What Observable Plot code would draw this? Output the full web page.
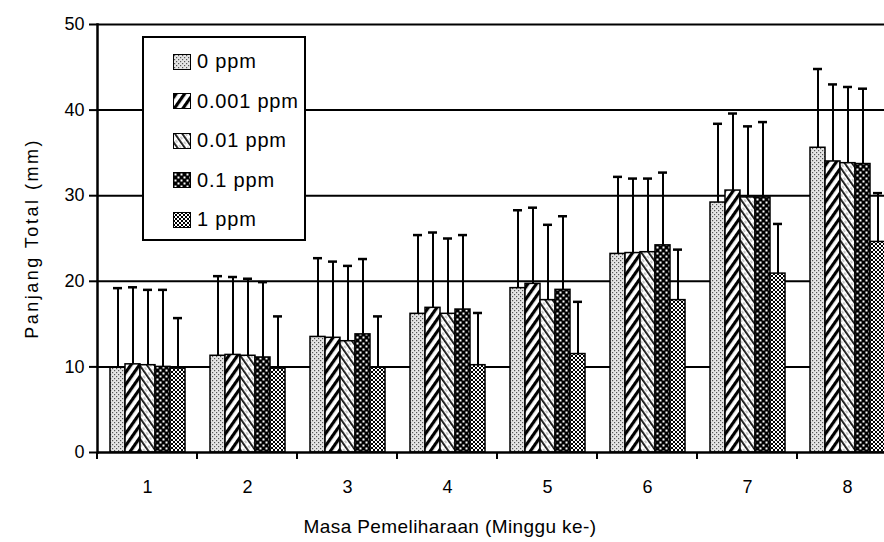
<!DOCTYPE html>
<html>
<head>
<meta charset="utf-8">
<script src="https://cdn.jsdelivr.net/npm/d3@7"></script>
<script src="https://cdn.jsdelivr.net/npm/@observablehq/plot@0.6"></script>
<style>
  html, body { margin: 0; padding: 0; background: #fff; overflow: hidden; }
  body { font-family: "Liberation Sans", Arial, sans-serif; color: #000; }
  #wrap { position: relative; width: 884px; height: 542px; overflow: hidden; }
  #chart svg { overflow: hidden; }
  #legend {
    position: absolute; left: 142px; top: 36px; width: 164px; height: 205px;
    box-sizing: border-box; border: 2px solid #000; background: #fff;
    padding: 4px 0 0 29px;
  }
  .row { display: flex; align-items: center; height: 39.5px; font-size: 20px; letter-spacing: 0.8px; }
  .sw { width: 16px; height: 14px; border: 1.5px solid #000; margin-right: 6px; flex: none; }
  #xlabel {
    position: absolute; left: 0; width: 900px; top: 516px; text-align: center;
    font-size: 19px; letter-spacing: 0.4px;
  }
  svg [aria-label="y-axis label"] text { letter-spacing: 2.5px; }
</style>
</head>
<body>
<svg width="0" height="0" style="position:absolute">
  <defs>
    <pattern id="pat0" width="4" height="4" patternUnits="userSpaceOnUse">
      <rect width="4" height="4" fill="#e4e4e4"/>
      <rect x="0" y="0" width="1.2" height="1.2" fill="#555"/>
      <rect x="2" y="2" width="1.2" height="1.2" fill="#555"/>
    </pattern>
    <pattern id="pat1" width="7" height="7" patternUnits="userSpaceOnUse" patternTransform="rotate(35)">
      <rect width="7" height="7" fill="#fff"/>
      <rect width="3.2" height="7" fill="#000"/>
    </pattern>
    <pattern id="pat2" width="6" height="6" patternUnits="userSpaceOnUse" patternTransform="rotate(-35)">
      <rect width="6" height="6" fill="#fff"/>
      <rect width="1.8" height="6" fill="#111"/>
      <rect x="3.5" y="0" width="0.8" height="3" fill="#888"/>
    </pattern>
    <pattern id="pat3" width="6" height="6" patternUnits="userSpaceOnUse">
      <rect width="6" height="6" fill="#000"/>
      <rect x="0.5" y="0.5" width="2" height="2" fill="#fff"/>
      <rect x="3.5" y="3.5" width="2" height="2" fill="#fff"/>
    </pattern>
    <pattern id="pat4" width="4" height="4" patternUnits="userSpaceOnUse">
      <rect width="4" height="4" fill="#fff"/>
      <path d="M0,0L4,4M4,0L0,4" stroke="#000" stroke-width="1"/>
    </pattern>
  </defs>
</svg>
<div id="wrap">
  <div id="chart"></div>
  <div id="legend"></div>
  <div id="xlabel">Masa Pemeliharaan (Minggu ke-)</div>
</div>
<script>
// Categories
const weeks = ["1", "2", "3", "4", "5", "6", "7", "8"];
const series = ["0 ppm", "0.001 ppm", "0.01 ppm", "0.1 ppm", "1 ppm"];
const yTicks = [0, 10, 20, 30, 40, 50];

// Mean total length (mm) per series, weeks 1..8
const mean0ppm    = [9.9, 11.3, 13.5, 16.2, 19.2, 23.2, 29.2, 35.6];
const mean0001ppm = [10.3, 11.4, 13.4, 16.9, 19.7, 23.3, 30.6, 34.0];
const mean001ppm  = [10.2, 11.3, 13.0, 16.2, 17.8, 23.4, 29.8, 33.8];
const mean01ppm   = [10.0, 11.1, 13.8, 16.7, 19.0, 24.2, 29.8, 33.7];
const mean1ppm    = [9.8, 9.8, 9.9, 10.2, 11.5, 17.8, 20.9, 24.6];

// Standard deviation (upper error bar) per series
const sd0ppm    = [9.3, 9.3, 9.2, 9.2, 9.1, 9.0, 9.2, 9.2];
const sd0001ppm = [9.0, 9.1, 8.9, 8.8, 8.9, 8.7, 9.0, 9.0];
const sd001ppm  = [8.8, 9.0, 8.8, 8.8, 8.8, 8.6, 8.3, 8.9];
const sd01ppm   = [9.0, 8.8, 8.8, 8.7, 8.6, 8.5, 8.8, 8.8];
const sd1ppm    = [5.9, 6.1, 6.0, 6.1, 6.1, 5.9, 5.8, 5.7];

const means = [mean0ppm, mean0001ppm, mean001ppm, mean01ppm, mean1ppm];
const sds = [sd0ppm, sd0001ppm, sd001ppm, sd01ppm, sd1ppm];
const patterns = series.map((s, j) => `url(#pat${j})`);

const data = weeks.flatMap((w, i) => series.map((s, j) => ({
  week: w, series: s, mean: means[j][i], upper: means[j][i] + sds[j][i]
})));

const plot = Plot.plot({
  width: 884,
  height: 542,
  marginLeft: 97,
  marginRight: -13,
  marginTop: 24,
  marginBottom: 90,
  style: { fontFamily: "'Liberation Sans', Arial, sans-serif", fontSize: "18px", color: "#000", background: "#fff" },
  fx: { domain: weeks, padding: 0, axis: null },
  x: { domain: series, paddingInner: 0, paddingOuter: 0.7, axis: null },
  y: { domain: [0, 50] },
  color: { domain: series, range: patterns },
  marks: [
    // gridlines repeat in every (adjacent) facet, so they run across the whole frame
    Plot.ruleY(yTicks.filter(d => d > 0), { stroke: "#000", strokeWidth: 2 }),
    Plot.barY(data, { fx: "week", x: "series", y: "mean", fill: "series", stroke: "#000", strokeWidth: 1.5 }),
    Plot.ruleX(data, { fx: "week", x: "series", y1: "mean", y2: "upper", stroke: "#000", strokeWidth: 2 }),
    Plot.tickY(data, { fx: "week", x: "series", y: "upper", stroke: "#000", strokeWidth: 2.5, insetLeft: 3, insetRight: 3 }),
    Plot.ruleY([0], { stroke: "#000", strokeWidth: 2.5 }),
    Plot.frame({ anchor: "left", facetAnchor: "left", stroke: "#000", strokeWidth: 2.5 }),
    Plot.axisY({
      ticks: yTicks, tickSize: 8, tickPadding: 5, tickFormat: d => d, fontSize: 18,
      strokeWidth: 2,
      label: "Panjang Total (mm)", labelAnchor: "center", labelArrow: "none", labelOffset: 72
    }),
    Plot.axisFx({ anchor: "bottom", tickSize: 0, tickPadding: 28, label: null, fontSize: 18 })
  ]
});

// Category boundary ticks on the x axis, from the fx band scale
const fx = plot.scale("fx");
const yS = plot.scale("y");
const y0 = yS.apply(0);
const bounds = weeks.map(w => fx.apply(w)).concat([fx.apply(weeks[weeks.length - 1]) + fx.step]);
d3.select(plot).append("g")
  .attr("stroke", "#000").attr("stroke-width", 2)
  .selectAll("line").data(bounds).join("line")
  .attr("x1", d => d).attr("x2", d => d)
  .attr("y1", y0).attr("y2", y0 + 7);

document.getElementById("chart").appendChild(plot);

// Legend
const legend = d3.select("#legend");
series.forEach((s, j) => {
  const row = legend.append("div").attr("class", "row");
  row.append("svg").attr("class", "sw").attr("width", 16).attr("height", 14)
    .append("rect").attr("width", 16).attr("height", 14).attr("fill", patterns[j]);
  row.append("span").text(s);
});
</script>
</body>
</html>
